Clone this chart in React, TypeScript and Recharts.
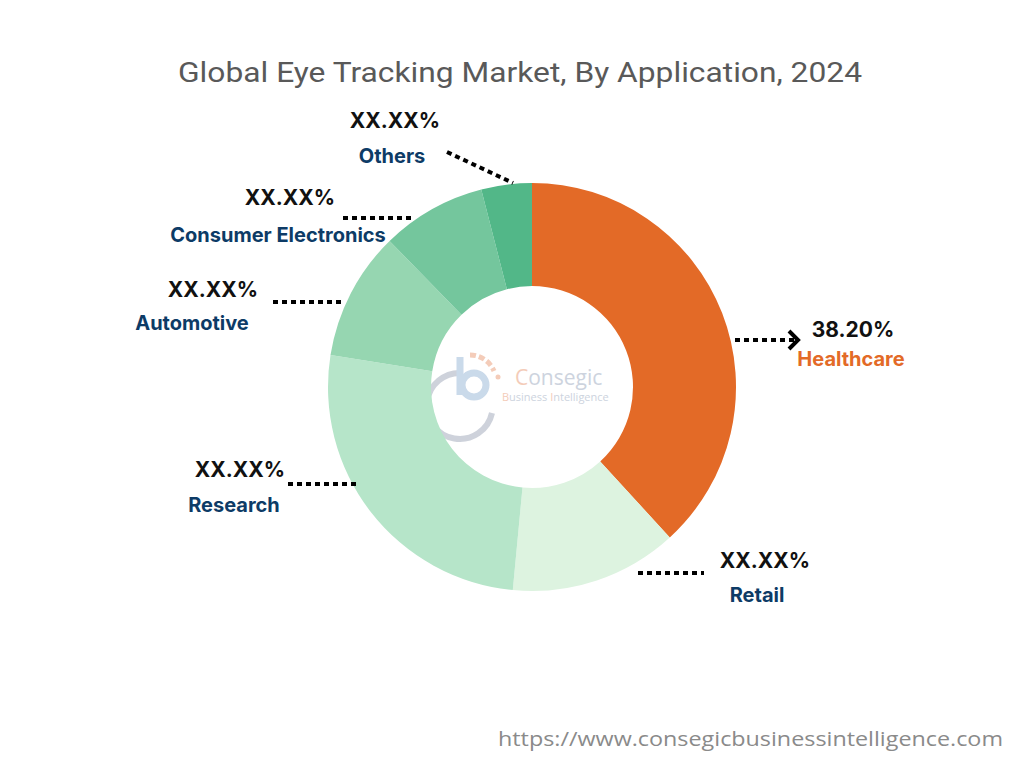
import { PieChart, Pie, Cell, Customized } from 'recharts';

const categories = ['Healthcare', 'Retail', 'Research', 'Automotive', 'Consumer Electronics', 'Others'];
const shares = [38.2, 13.3, 26.0, 10.2, 8.3, 4.0];
const shareLabels = ['38.20%', 'XX.XX%', 'XX.XX%', 'XX.XX%', 'XX.XX%', 'XX.XX%'];
const colors = ['#E36A27', '#DDF3E0', '#B6E5C9', '#96D6B1', '#74C69D', '#52B788'];

const data = categories.map((name, i) => ({ name, value: shares[i] }));

// annotation layout, offsets from the pie centre
const callouts = [
  { line: [203, -47, 263, -47], arrow: true, tx: 321, nx: 319, pctY: -50, nameY: -21 },
  { line: [106, 186, 172, 186], arrow: false, tx: 233, nx: 225, pctY: 181, nameY: 215 },
  { line: [-244, 97, -175, 97], arrow: false, tx: -292, nx: -298, pctY: 90, nameY: 125 },
  { line: [-259, -85, -187, -85], arrow: false, tx: -319, nx: -340, pctY: -90, nameY: -57 },
  { line: [-189, -169, -120, -169], arrow: false, tx: -242, nx: -254, pctY: -182, nameY: -145 },
  { line: [-85, -235, -19, -204], arrow: false, tx: -137, nx: -140, pctY: -259, nameY: -224 },
];

const NAVY = '#0D3B66';

function renderLabel(props: any) {
  const { cx, cy, index } = props;
  const c = callouts[index];
  const [x1, y1, x2, y2] = c.line;
  return (
    <g key={`lbl-${index}`}>
      <line
        x1={cx + x1}
        y1={cy + y1}
        x2={cx + x2}
        y2={cy + y2}
        stroke="#000"
        strokeWidth={4}
        strokeDasharray="5 4"
      />
      {c.arrow && (
        <polyline
          points={`${cx + x2 - 6},${cy + y2 - 9} ${cx + x2 + 3},${cy + y2} ${cx + x2 - 6},${cy + y2 + 9}`}
          fill="none"
          stroke="#000"
          strokeWidth={4}
        />
      )}
      <text
        x={cx + c.tx}
        y={cy + c.pctY}
        textAnchor="middle"
        fontFamily="Inter, Roboto, sans-serif"
        fontWeight={700}
        fontSize={21}
        fill="#111"
      >
        {shareLabels[index]}
      </text>
      <text
        x={cx + c.nx}
        y={cy + c.nameY}
        textAnchor="middle"
        fontFamily="Inter, Roboto, sans-serif"
        fontWeight={700}
        fontSize={20}
        fill={index === 0 ? '#E36A27' : NAVY}
      >
        {categories[index]}
      </text>
    </g>
  );
}

function Decorations() {
  const cx = 532;
  const cy = 387;
  return (
    <g>
      <text
        x={520}
        y={82}
        textAnchor="middle"
        fontFamily="Roboto, sans-serif"
        fontSize={28}
        fill="#595959"
        textLength={684}
        lengthAdjust="spacingAndGlyphs"
      >
        Global Eye Tracking Market, By Application, 2024
      </text>
      {/* faint logo in the hole */}
      <g opacity={0.9}>
        <path
          d={`M ${cx - 70} ${cy - 14} A 33 33 0 1 0 ${cx - 40} ${cy + 26}`}
          fill="none"
          stroke="#C9CED8"
          strokeWidth={6}
        />
        <line x1={cx - 72} y1={cy - 30} x2={cx - 72} y2={cy + 8} stroke="#C5D6E8" strokeWidth={7} />
        <circle cx={cx - 58} cy={cy - 2} r={12} fill="none" stroke="#C5D6E8" strokeWidth={7} />
        <path
          d={`M ${cx - 62} ${cy - 32} A 26 26 0 0 1 ${cx - 38} ${cy - 16}`}
          fill="none"
          stroke="#F3C7B2"
          strokeWidth={5}
          strokeDasharray="6 3"
        />
        <circle cx={cx - 34} cy={cy - 10} r={2.5} fill="#F3C7B2" />
        <text x={cx - 17} y={cy - 2} fontFamily="Open Sans, sans-serif" fontSize={21} fill="#C8CFDB">
          <tspan fill="#F3C7B2">C</tspan>onsegic
        </text>
        <text x={cx - 30} y={cy + 14} fontFamily="Open Sans, sans-serif" fontSize={11} fill="#C8CFDB">
          <tspan fill="#F3C7B2">B</tspan>usiness <tspan fill="#F3C7B2">I</tspan>ntelligence
        </text>
      </g>
      <text
        x={498}
        y={746}
        fontFamily="Open Sans, sans-serif"
        fontSize={20}
        fill="#8A8A8A"
        textLength={505}
        lengthAdjust="spacingAndGlyphs"
      >
        https://www.consegicbusinessintelligence.com
      </text>
    </g>
  );
}

export default function App() {
  return (
    <div style={{ position: 'absolute', left: 0, top: 0, width: 1024, height: 768, background: '#fff' }}>
      <PieChart width={1024} height={768} margin={{ top: 0, right: 0, bottom: 0, left: 0 }}>
        <Pie
          data={data}
          dataKey="value"
          nameKey="name"
          cx={532}
          cy={387}
          innerRadius={101}
          outerRadius={204}
          startAngle={90}
          endAngle={-270}
          stroke="none"
          label={renderLabel}
          labelLine={false}
          isAnimationActive={false}
        >
          {data.map((d, i) => (
            <Cell key={d.name} fill={colors[i]} />
          ))}
        </Pie>
        <Customized component={Decorations} />
      </PieChart>
    </div>
  );
}
